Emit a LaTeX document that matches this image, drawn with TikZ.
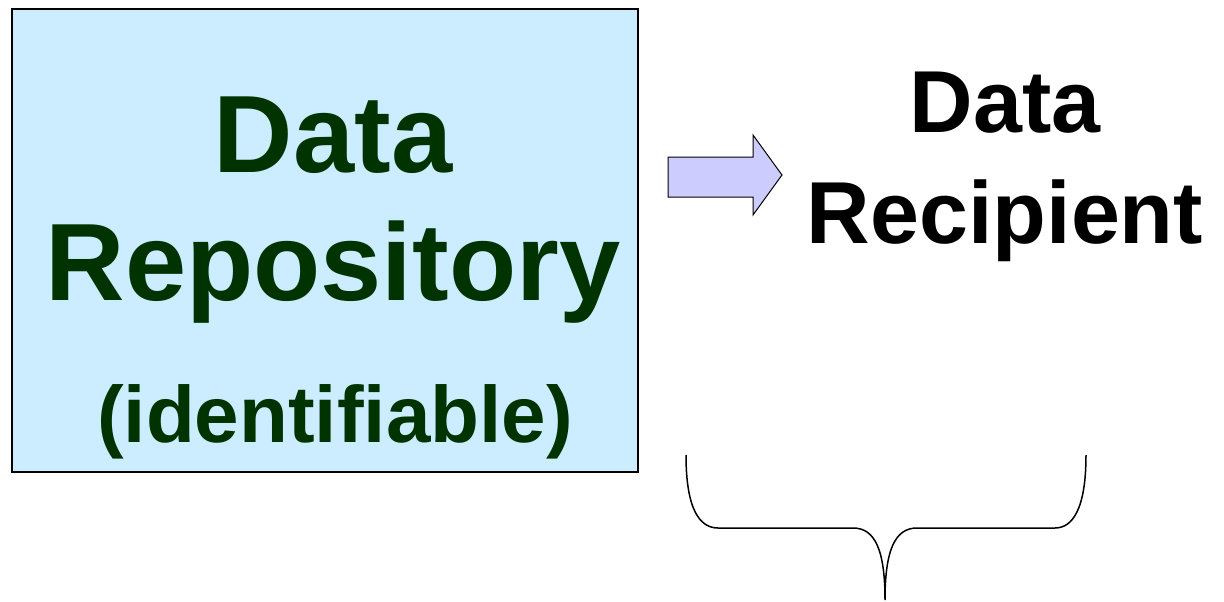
\documentclass[tikz,border=0pt]{standalone}
\usepackage{fontspec}
\setmainfont{Liberation Sans}
\usepackage{tikz}

\definecolor{repofill}{HTML}{CCECFF}
\definecolor{repotext}{HTML}{003300}
\definecolor{arrowfill}{HTML}{CCCCFF}

\tikzset{
    bigtext/.style={font=\bfseries\fontsize{110}{127}\selectfont, anchor=base, inner sep=0pt},
    midtext/.style={font=\bfseries\fontsize{80}{90}\selectfont, anchor=base, inner sep=0pt},
    sidetext/.style={font=\bfseries\fontsize{88}{110}\selectfont, anchor=base, inner sep=0pt},
}

\begin{document}
\begin{tikzpicture}[x=1pt, y=-1pt]
    \useasboundingbox (0,0) rectangle (1224,602);

    % repository box
    \draw[fill=repofill, line width=1.5pt] (12,9) rectangle (638,472);
    \node[bigtext, text=repotext] (repo1) at (333,172) {Data};
    \node[bigtext, text=repotext] (repo2) at (333,300) {Repository};
    \node[midtext, text=repotext] (repo3) at (335,442) {(identifiable)};

    % block arrow
    \draw[fill=arrowfill, line width=1pt, line join=miter]
        (668,157) -- (753,157) -- (753,135) -- (782,175) -- (753,215) -- (753,197) -- (668,197) -- cycle;

    % recipient
    \node[sidetext] (recip1) at (1005,132) {Data};
    \node[sidetext] (recip2) at (1005,243) {Recipient};

    % brace
    \draw[line width=1.5pt]
        (686,455) .. controls (686,510) and (700,528) .. (718,528) -- (853,528)
        .. controls (875,528) and (885,550) .. (885,600)
        .. controls (885,550) and (895,528) .. (917,528) -- (1055,528)
        .. controls (1072,528) and (1086,510) .. (1086,455);
\end{tikzpicture}
\end{document}
